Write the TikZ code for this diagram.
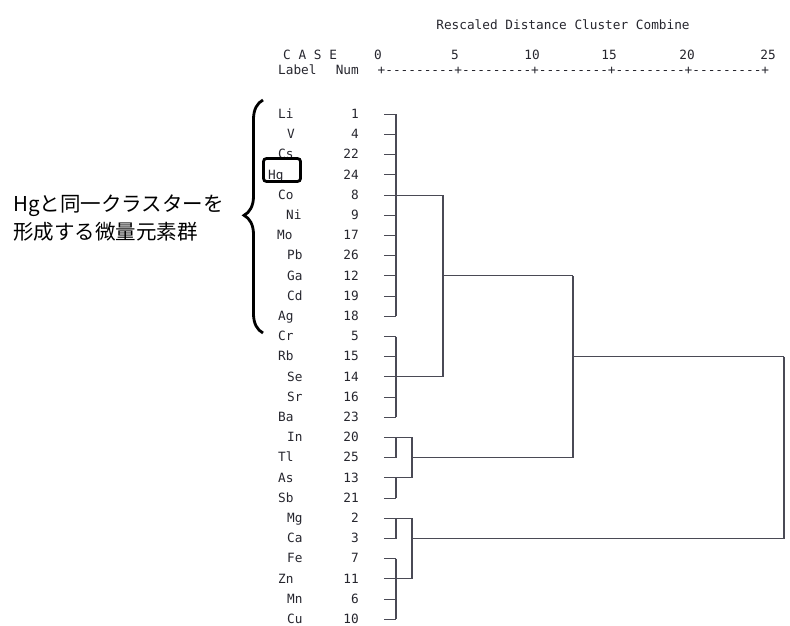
\documentclass[tikz,border=0pt]{standalone}
\usepackage{fontspec}
\setmonofont{DejaVu Sans Mono}
\newfontfamily\jpfont{Noto Sans CJK JP}
\usetikzlibrary{decorations.pathreplacing}
\definecolor{txt}{HTML}{26262E}
\definecolor{dendro}{HTML}{4A4A55}
\begin{document}
\begin{tikzpicture}[x=1pt,y=-1pt,
  mono/.style={font=\fontsize{12.75}{14}\selectfont\ttfamily, text=txt, inner sep=0pt},
  lbl/.style={mono, anchor=base west},
  numlbl/.style={mono, anchor=base east},
  dline/.style={draw=dendro, line width=1.1pt},
  jptext/.style={font=\jpfont\fontsize{20.5}{26}\selectfont, anchor=base west, inner sep=0pt, text=black}]
\path[use as bounding box] (0,0) rectangle (790,626);
% header
\node[mono] (title) at (563,25) {Rescaled Distance Cluster Combine};
\node[mono, anchor=west] (case) at (283,55) {C A S E};
\node[lbl] (labelhd) at (278,74.5) {Label};
\node[numlbl] (numhd) at (359,74.5) {Num};
\foreach \v/\xx in {0/378,5/455,10/532,15/609,20/687,25/768}
  \node[mono] (ax\v) at (\xx,55) {\v};
\node[mono, anchor=base west] (axis) at (377.5,74.5) {+---------+---------+---------+---------+---------+};
% rows
\foreach \lab/\lx/\num [count=\i from 0] in {Li/278/1,V/287/4,Cs/278/22,Hg/268/24,Co/278/8,Ni/286/9,Mo/277/17,Pb/287/26,Ga/287/12,Cd/287/19,Ag/278/18,Cr/278/5,Rb/278/15,Se/287/14,Sr/287/16,Ba/278/23,In/287/20,Tl/278/25,As/278/13,Sb/278/21,Mg/287/2,Ca/287/3,Fe/287/7,Zn/278/11,Mn/287/6,Cu/287/10}{
  \pgfmathsetmacro{\yy}{114.3+20.2*\i}
  \node[lbl] (l\i) at (\lx,\yy+4.2) {\lab};
  \node[numlbl] (n\i) at (359,\yy+4.2) {\num};
  \coordinate (s\i) at (384,\yy);
  \coordinate (v\i) at (396,\yy);
}
% leaf ticks
\foreach \i in {0,...,25} \draw[dline] (s\i) -- (v\i);
% group A
\draw[dline] (v0) -- (v10);
\coordinate (a1) at (443,0|-v4);
\draw[dline] (v4) -- (a1);
% group B
\draw[dline] (v11) -- (v15);
\coordinate (a2) at (443,0|-v13);
\draw[dline] (v13) -- (a2);
\draw[dline] (a1) -- (a2);
\coordinate (ab) at (443,0|-v8);
\coordinate (abr) at (573,0|-v8);
\draw[dline] (ab) -- (abr);
% group C
\draw[dline] (v16) -- (v17);
\draw[dline] (v18) -- (v19);
\coordinate (c1) at (412,0|-v16);
\coordinate (c2) at (412,0|-v18);
\draw[dline] (v16) -- (c1) -- (c2) -- (v18);
\coordinate (cm) at (412,0|-v17);
\coordinate (cmr) at (573,0|-v17);
\draw[dline] (cm) -- (cmr);
\draw[dline] (abr) -- (cmr);
\coordinate (abc) at (573,0|-v12);
\coordinate (abcr) at (784,0|-v12);
\draw[dline] (abc) -- (abcr);
% group D
\draw[dline] (v20) -- (v21);
\draw[dline] (v22) -- (v25);
\coordinate (d1) at (412,0|-v20);
\coordinate (d2) at (412,0|-v23);
\draw[dline] (v20) -- (d1) -- (d2) -- (v23);
\coordinate (dm) at (412,0|-v21);
\coordinate (dmr) at (784,0|-v21);
\draw[dline] (dm) -- (dmr);
\draw[dline] (abcr) -- (dmr);
% highlight box around Hg
\node[draw=black, line width=2.8pt, rounded corners=3pt, minimum width=37pt, minimum height=23pt, inner sep=0pt] (hgbox) at (282,170) {};
% brace
\coordinate (bb) at (263,333);
\coordinate (bt) at (263,100);
\draw[line width=2.8pt, decorate, decoration={brace, amplitude=19pt, aspect=0.505}] (bb) -- (bt);
% Japanese annotation
\node[jptext] (jp1) at (13,211.5) {Hgと同一クラスターを};
\node[jptext] (jp2) at (13,239.5) {形成する微量元素群};
\end{tikzpicture}
\end{document}
